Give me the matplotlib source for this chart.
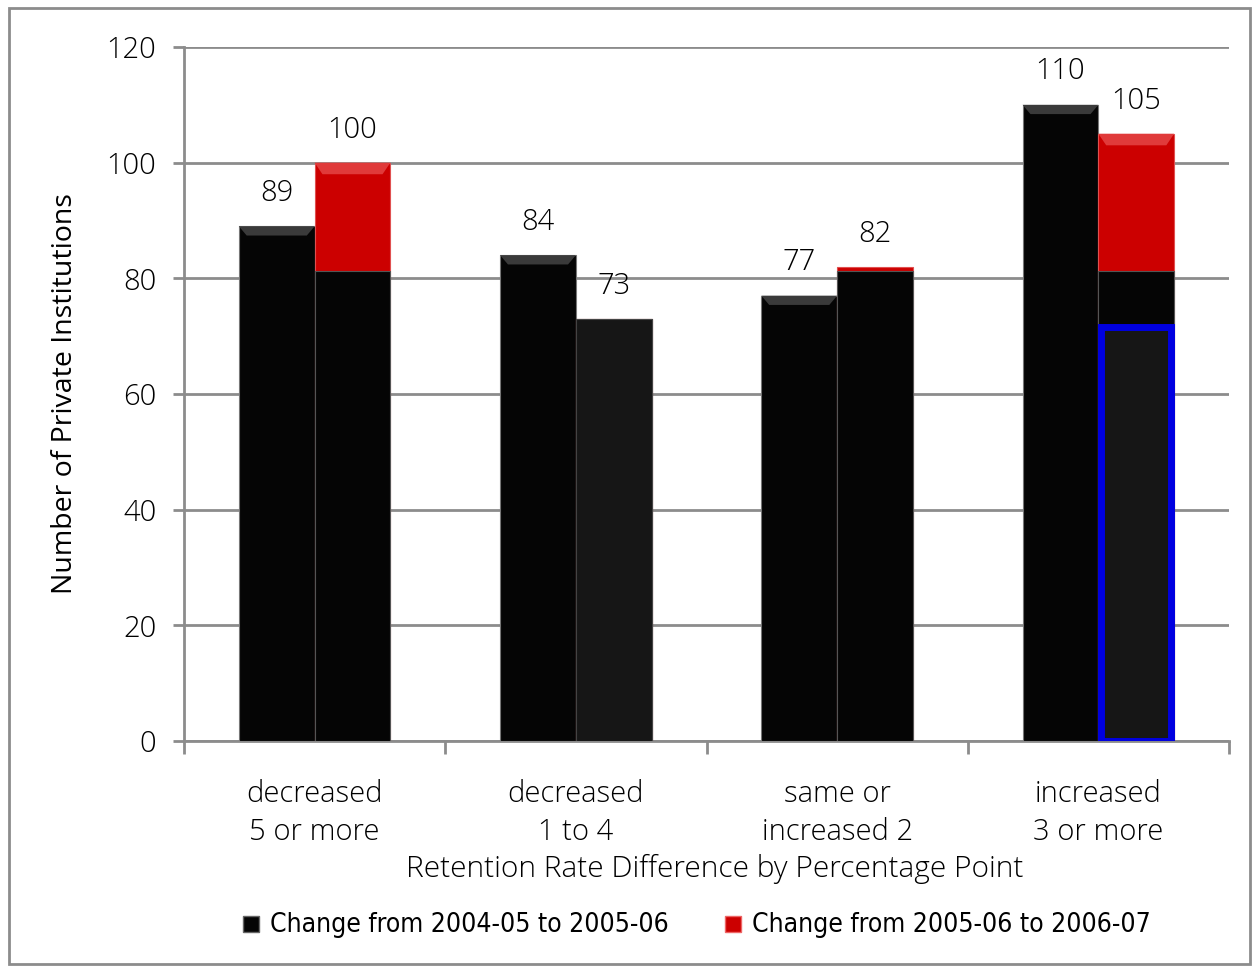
import matplotlib
matplotlib.use("Agg")
import matplotlib.pyplot as plt
from matplotlib.patches import Rectangle
import numpy as np

categories = ["decreased\n5 or more", "decreased\n1 to 4", "same or\nincreased 2", "increased\n3 or more"]
series_names = ["Change from 2004-05 to 2005-06", "Change from 2005-06 to 2006-07"]
change_0405_0506 = [89, 84, 77, 110]
change_0506_0607 = [100, 73, 82, 105]
y_ticks = [0, 20, 40, 60, 80, 100, 120]

GRAY = "#8c8c8c"
BLACK = "#050505"
DARK = "#161616"
RED = "#cc0000"
TEXT = "#000000"

plt.rcParams["font.family"] = ["Open Sans", "DejaVu Sans"]
plt.rcParams["font.weight"] = "light"

fig = plt.figure(figsize=(12.57, 9.69), dpi=100)
fig.patches.append(Rectangle((9 / 1257, 1 - 964 / 969), 1241 / 1257, 956 / 969,
                             transform=fig.transFigure, fill=False,
                             edgecolor=GRAY, lw=2, zorder=0))

ax = fig.add_axes([184 / 1257, 1 - 741 / 969, (1229 - 184) / 1257, (741 - 47) / 969])

x = np.arange(len(categories))
w = 0.29

# first series: solid black bars
ax.bar(x - w / 2, change_0405_0506, width=w, color=BLACK, edgecolor="#777777",
       lw=0.8, zorder=3)

# second series: red bars with a dark lower body
second = np.array(change_0506_0607, dtype=float)
ax.bar(x + w / 2, second, width=w, color=RED, edgecolor="#e05050", lw=0.8, zorder=3)
body = np.minimum(second, 81.3)
ax.bar(x + w / 2, body, width=w, color=BLACK, edgecolor="#555555", lw=0.8, zorder=4)
ax.bar(x[1] + w / 2, second[1], width=w, color=DARK, edgecolor="#444444", lw=0.8, zorder=4)
ax.bar(x[3] + w / 2, 71.5, width=w * 0.93, color=DARK, edgecolor="#0000e0", lw=5, zorder=5)

# bevel highlight on the top of each bar
for xi, v in zip(x - w / 2, change_0405_0506):
    ax.add_patch(plt.Polygon([[xi - w / 2, v], [xi + w / 2, v], [xi + w / 2 - 0.03, v - 1.6],
                              [xi - w / 2 + 0.03, v - 1.6]], closed=True,
                             color="#3a3a3a", zorder=6, lw=0))
for i in (0, 3):
    xi, v = x[i] + w / 2, second[i]
    ax.add_patch(plt.Polygon([[xi - w / 2, v], [xi + w / 2, v], [xi + w / 2 - 0.03, v - 2.0],
                              [xi - w / 2 + 0.03, v - 2.0]], closed=True,
                             color="#e03a3a", zorder=6, lw=0))

# value labels
for xi, v in zip(x - w / 2, change_0405_0506):
    ax.text(xi, v + 3.2, f"{v}", ha="center", va="bottom", fontsize=21, color=TEXT, zorder=7)
for xi, v in zip(x + w / 2, change_0506_0607):
    ax.text(xi, v + 3.0, f"{v}", ha="center", va="bottom", fontsize=21, color=TEXT, zorder=7)

ax.set_xlim(-0.5, len(categories) - 0.5)
ax.set_ylim(0, 120)
ax.set_yticks(y_ticks)
ax.set_yticklabels([str(t) for t in y_ticks], fontsize=21, color=TEXT)
ax.yaxis.grid(True, color=GRAY, lw=2)
ax.set_axisbelow(True)

ax.set_xticks(np.arange(len(categories) + 1) - 0.5)
ax.set_xticklabels([])
ax.set_xticks(x, minor=True)
ax.set_xticklabels(categories, minor=True, fontsize=21, color=TEXT, linespacing=1.38)
ax.tick_params(axis="x", which="minor", length=0, pad=28)
ax.tick_params(axis="x", which="major", length=9, width=2, color=GRAY, direction="out")
ax.tick_params(axis="y", length=8, width=2, color=GRAY, direction="out", pad=12)

for s in ("top", "right"):
    ax.spines[s].set_visible(False)
for s in ("left", "bottom"):
    ax.spines[s].set_color(GRAY)
    ax.spines[s].set_linewidth(2)

ax.set_ylabel("Number of Private Institutions", fontsize=20.5, color=TEXT, labelpad=20)
fig.text(715 / 1257, 1 - 869 / 969, "Retention Rate Difference by Percentage Point",
         ha="center", va="center", fontsize=21.5, color=TEXT)

# legend
legend_font = dict(fontsize=19, color=TEXT, va="center", ha="left",
                   family=["Liberation Sans Narrow", "DejaVu Sans"], stretch="condensed",
                   weight="normal")
fig.patches.append(Rectangle((243 / 1257, 1 - 932 / 969), 16 / 1257, 16 / 969,
                             transform=fig.transFigure, facecolor=BLACK, edgecolor="#666666", lw=1))
fig.text(270 / 1257, 1 - 925 / 969, series_names[0], **legend_font)
fig.patches.append(Rectangle((725 / 1257, 1 - 932 / 969), 16 / 1257, 16 / 969,
                             transform=fig.transFigure, facecolor=RED, edgecolor="#ee6666", lw=1))
fig.text(752 / 1257, 1 - 925 / 969, series_names[1], **legend_font)

fig.savefig("out.png", dpi=100)
